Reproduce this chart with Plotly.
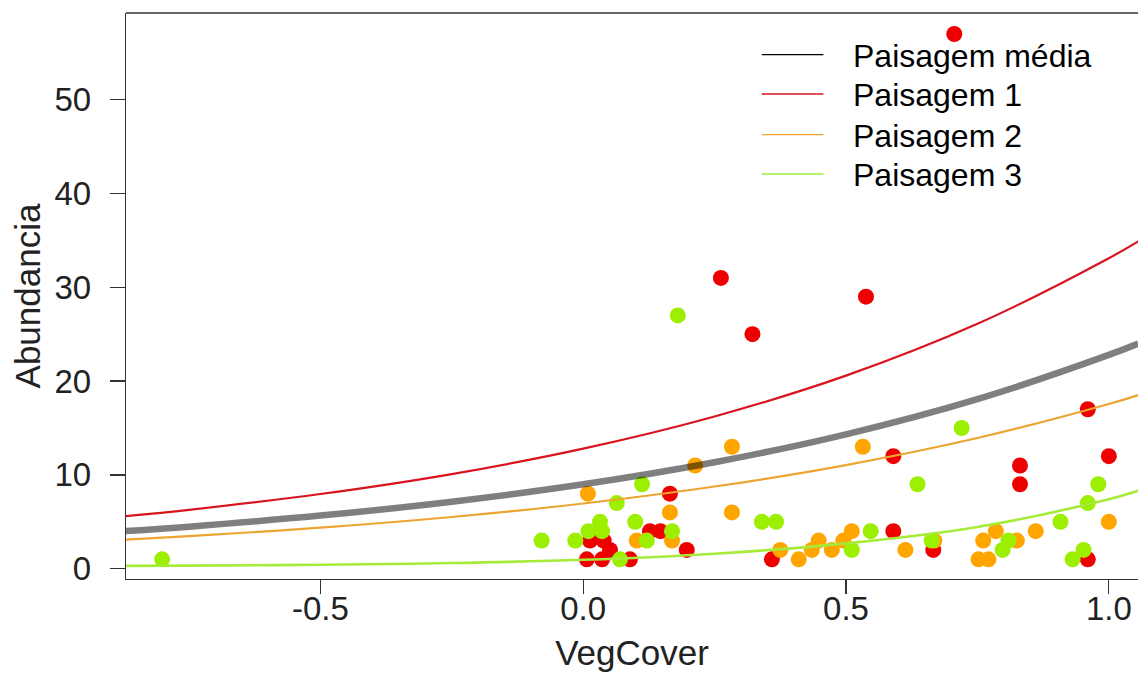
import plotly.graph_objects as go

# ---- data ----
red_x = [0.706, 0.262, 0.322, 0.538, 0.960, 0.590, 1.000, 0.831, 0.831, 0.165,
         0.590, 0.127, 0.147, 0.013, 0.039, 0.051, 0.197, 0.666, 0.007, 0.036,
         0.089, 0.359, 0.960]
red_y = [57, 31, 25, 29, 17, 12, 12, 11, 9, 8,
         4, 4, 4, 3, 3, 2, 2, 2, 1, 1,
         1, 1, 1]

orange_x = [0.009, 0.213, 0.283, 0.283, 0.165, 0.102, 0.169, 0.375, 0.410, 0.435,
            0.448, 0.473, 0.495, 0.511, 0.532, 0.613, 0.668, 0.752, 0.771, 0.761,
            0.785, 0.825, 0.861, 1.000]
orange_y = [8, 11, 13, 6, 6, 3, 3, 2, 1, 2,
            3, 2, 3, 4, 13, 2, 3, 1, 1, 3,
            4, 3, 4, 5]

green_x = [-0.801, -0.079, -0.015, 0.010, 0.036, 0.032, 0.064, 0.070, 0.099, 0.112,
           0.121, 0.169, 0.180, 0.340, 0.367, 0.511, 0.547, 0.636, 0.663, 0.720,
           0.798, 0.809, 0.908, 0.931, 0.952, 0.960, 0.980]
green_y = [1, 3, 3, 4, 4, 5, 7, 1, 5, 9,
           3, 4, 27, 5, 5, 2, 4, 9, 3, 15,
           2, 3, 5, 1, 2, 7, 9]

# fitted curves, values read along the x axis
curve_x = [-0.87, -0.75, -0.5, -0.25, 0.0, 0.25, 0.5, 0.75, 1.0, 1.056]
mean_curve = [4.01, 4.48, 5.66, 7.14, 9.0, 11.35, 14.32, 18.07, 22.79, 24.0]
curve_p1 = [5.60, 6.28, 7.96, 10.09, 12.8, 16.23, 20.58, 26.1, 33.1, 34.9]
curve_p2 = [3.10, 3.47, 4.37, 5.51, 6.95, 8.76, 11.05, 13.93, 17.56, 18.5]
curve_p3 = [0.30, 0.33, 0.42, 0.60, 0.95, 1.6, 2.7, 4.45, 7.4, 8.3]

legend_labels = ["Paisagem média", "Paisagem 1", "Paisagem 2", "Paisagem 3"]

x_tick_vals = [-0.5, 0.0, 0.5, 1.0]
x_tick_text = ["-0.5", "0.0", "0.5", "1.0"]
y_tick_vals = [0, 10, 20, 30, 40, 50]
y_tick_text = ["0", "10", "20", "30", "40", "50"]

RED = "#EE0000"
ORANGE = "#FFA500"
GREEN = "#9CEF00"
RED_LINE = "#D8141E"
ORANGE_LINE = "#EBA530"
GREEN_LINE = "#A6EA3A"
MEAN_LINE = "rgba(0,0,0,0.5)"

FONT = "Liberation Sans, Arial, sans-serif"

FIG_W, FIG_H = 1138, 689
PL, PT, PB = 125.7, 13.3, 689 - 579.3

fig = go.Figure()

for xs, ys, col in [(red_x, red_y, RED), (orange_x, orange_y, ORANGE), (green_x, green_y, GREEN)]:
    fig.add_trace(go.Scatter(x=xs, y=ys, mode="markers",
                             marker=dict(size=16, color=col, line=dict(width=0)),
                             showlegend=False, hoverinfo="skip"))

for ys, col, w in [(curve_p1, RED_LINE, 2.2), (curve_p2, ORANGE_LINE, 2.2),
                   (curve_p3, GREEN_LINE, 2.6), (mean_curve, MEAN_LINE, 6.5)]:
    fig.add_trace(go.Scatter(x=curve_x, y=ys, mode="lines",
                             line=dict(color=col, width=w, shape="spline", smoothing=1.0),
                             showlegend=False, hoverinfo="skip"))

# manual legend (R-style, no box); positions in window pixels
L, W_PLOT, H_PLOT = PL, FIG_W - PL, FIG_H - PB - PT
def px(xp):
    return (xp - L) / W_PLOT
def py(yp):
    return (FIG_H - PB - yp) / H_PLOT

legend_rows = [55, 94.3, 135, 174.3]
legend_cols = ["black", RED_LINE, ORANGE_LINE, GREEN_LINE]
for lab, row, col in zip(legend_labels, legend_rows, legend_cols):
    fig.add_shape(type="line", xref="paper", yref="paper",
                  x0=px(761.7), x1=px(823.3), y0=py(row), y1=py(row),
                  line=dict(color=col, width=1.3))
    fig.add_annotation(xref="paper", yref="paper", x=px(851), y=py(row + 1),
                       text=lab, showarrow=False, xanchor="left", yanchor="middle",
                       font=dict(family=FONT, size=32, color="black"))

# top border of the box
fig.add_shape(type="line", xref="paper", yref="paper", x0=0, x1=1, y0=1, y1=1,
              line=dict(color="#333333", width=1.3))

fig.update_xaxes(range=[-0.8697, 1.0555], tickvals=x_tick_vals, ticktext=x_tick_text,
                 ticks="outside", ticklen=14, tickwidth=1.3, tickcolor="#333333",
                 showline=True, linecolor="#333333", linewidth=1.3,
                 showgrid=False, zeroline=False, ticklabelstandoff=-14,
                 tickfont=dict(family=FONT, size=33, color="#222222"),
                 title=dict(text="VegCover", standoff=14,
                            font=dict(family=FONT, size=35, color="#222222")))
fig.update_yaxes(range=[-1.098, 59.24], tickvals=y_tick_vals, ticktext=y_tick_text,
                 ticks="outside", ticklen=15, tickwidth=1.3, tickcolor="#333333",
                 showline=True, linecolor="#333333", linewidth=1.3,
                 showgrid=False, zeroline=False, ticklabelstandoff=12,
                 tickfont=dict(family=FONT, size=33, color="#222222"),
                 title=dict(text="Abundancia", standoff=3,
                            font=dict(family=FONT, size=35, color="#222222")))

fig.update_layout(width=FIG_W, height=FIG_H, autosize=False,
                  margin=dict(l=PL, r=0, t=PT, b=PB, pad=0),
                  plot_bgcolor="white", paper_bgcolor="white",
                  font=dict(family=FONT), hovermode=False)

# remove the default page margin so the figure fills the window exactly
fig.write_html("out.html",
               config={"displayModeBar": False, "staticPlot": True},
               post_script="document.body.style.margin='0';"
                           "document.body.style.overflow='hidden';"
                           "document.documentElement.style.overflow='hidden';")
